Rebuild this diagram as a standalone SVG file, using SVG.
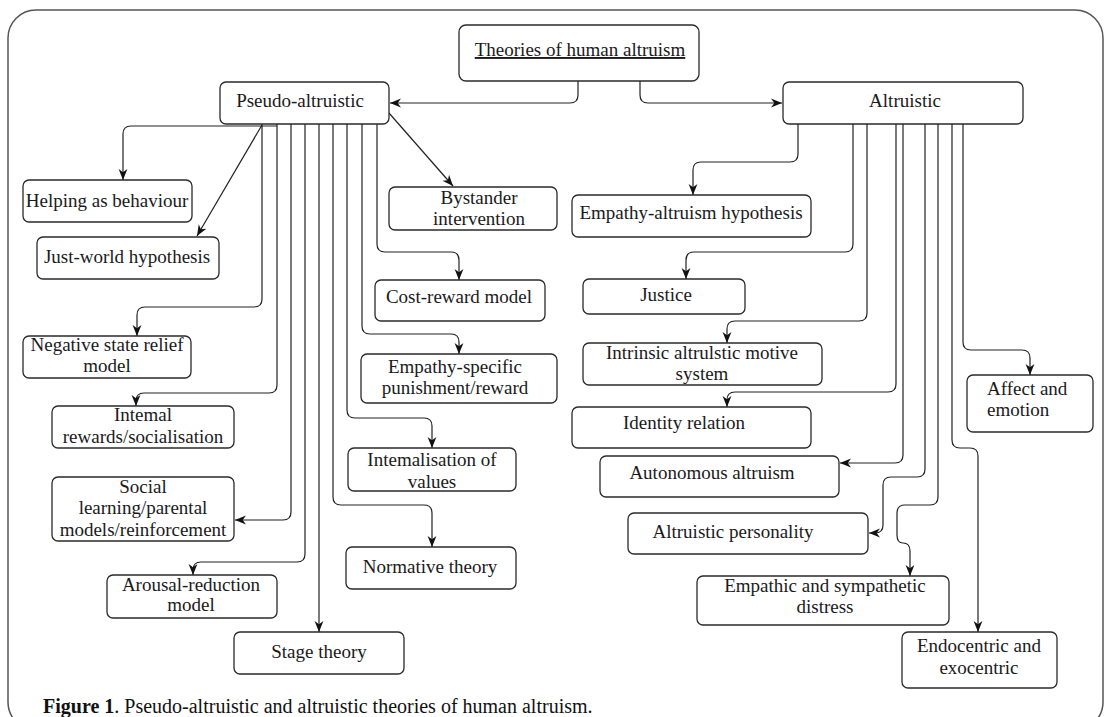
<svg xmlns="http://www.w3.org/2000/svg" width="1105" height="717" viewBox="0 0 1105 717">
<style>
.box{fill:#fff;stroke:#2a2a2a;stroke-width:1.3}
.t{font-family:"Liberation Serif","Times New Roman",serif;font-size:19px;fill:#1a1a1a;text-anchor:middle}
.l{text-anchor:start}
.c{fill:none;stroke:#222;stroke-width:1.2}
.a{marker-end:url(#arr)}
.frame{fill:none;stroke:#555;stroke-width:1.5}
.cap{font-family:"Liberation Serif","Times New Roman",serif;font-size:20px;fill:#111}
</style>
<defs>
<marker id="arr" viewBox="0 0 10 10" refX="10" refY="5" markerWidth="11" markerHeight="11" markerUnits="userSpaceOnUse" orient="auto">
<path d="M0,1 L10,5 L0,9 L3,5 z" fill="#111"/>
</marker>
</defs>
<rect width="1105" height="717" fill="#fff"/>
<rect class="frame" x="8" y="10" width="1095" height="720" rx="28"/>

<g id="connectors">
<path class="c a" d="M578,81 V95 Q578,103 570,103 H390"/>
<path class="c a" d="M640,81 V95 Q640,103 648,103 H782"/>
<path class="c a" d="M277,126 H131 Q123,126 123,134 V180"/>
<path class="c a" d="M262,125 L197,236"/>
<path class="c a" d="M389,113 L453,186"/>
<path class="c a" d="M262,124 V299 Q262,307 254,307 H145 Q137,307 137,315 V336"/>
<path class="c a" d="M277,124 V385 Q277,393 269,393 H144 Q136,393 136,401 V406"/>
<path class="c a" d="M291,124 V512 Q291,520 283,520 H235"/>
<path class="c a" d="M305,124 V554 Q305,562 297,562 H201 Q193,562 193,570 V575"/>
<path class="c a" d="M319,124 V632"/>
<path class="c a" d="M333,124 V497 Q333,505 341,505 H424 Q432,505 432,513 V547"/>
<path class="c a" d="M347,124 V410 Q347,418 355,418 H424 Q432,418 432,426 V448"/>
<path class="c a" d="M362,124 V326 Q362,334 370,334 H451 Q459,334 459,342 V354"/>
<path class="c a" d="M377,124 V244 Q377,252 385,252 H451 Q459,252 459,260 V280"/>
<path class="c a" d="M798,124 V154 Q798,162 790,162 H701 Q693,162 693,170 V195"/>
<path class="c a" d="M853,124 V244 Q853,252 845,252 H694 Q686,252 686,260 V279"/>
<path class="c a" d="M867,124 V313 Q867,321 859,321 H735 Q727,321 727,329 V343"/>
<path class="c a" d="M896,124 V384 Q896,392 888,392 H735 Q727,392 727,400 V407"/>
<path class="c a" d="M903,124 V455 Q903,463 895,463 H840"/>
<path class="c a" d="M925,124 V469 Q925,477 917,477 H891 Q883,477 883,485 V525 Q883,533 875,533 H869"/>
<path class="c a" d="M938,124 V497 Q938,505 930,505 H905 Q897,505 897,513 V535 Q897,543 903,543 Q910,543 910,551 V576"/>
<path class="c a" d="M952,124 V440 Q952,448 960,448 H970 Q978,448 978,456 V632"/>
<path class="c a" d="M963,124 V342 Q963,350 971,350 H1022 Q1030,350 1030,358 V375"/>
</g>

<g id="theories">
<rect class="box" x="459" y="25" width="240" height="56" rx="7"/>
<text class="t" x="580" y="56" text-decoration="underline">Theories of human altruism</text>
</g>
<g id="pseudo">
<rect class="box" x="220" y="82" width="169" height="42" rx="6"/>
<text class="t" x="300" y="107">Pseudo-altruistic</text>
</g>
<g id="altruistic">
<rect class="box" x="783" y="82" width="240" height="42" rx="6"/>
<text class="t" x="905" y="107">Altruistic</text>
</g>

<g id="helping">
<rect class="box" x="23" y="180" width="169" height="42" rx="6"/>
<text class="t" x="107" y="207">Helping as behaviour</text>
</g>
<g id="justworld">
<rect class="box" x="37" y="237" width="182" height="42" rx="6"/>
<text class="t" x="127" y="263">Just-world hypothesis</text>
</g>
<g id="negative">
<rect class="box" x="23" y="336" width="168" height="42" rx="6"/>
<text class="t"><tspan x="107" y="351">Negative state relief</tspan><tspan x="107" y="372">model</tspan></text>
</g>
<g id="internal">
<rect class="box" x="52" y="406" width="182" height="42" rx="6"/>
<text class="t"><tspan x="143" y="421">Intemal</tspan><tspan x="143" y="443">rewards/socialisation</tspan></text>
</g>
<g id="social">
<rect class="box" x="52" y="477" width="182" height="64" rx="6"/>
<text class="t"><tspan x="143" y="493">Social</tspan><tspan x="143" y="514">learning/parental</tspan><tspan x="143" y="536">models/reinforcement</tspan></text>
</g>
<g id="arousal">
<rect class="box" x="107" y="575" width="170" height="43" rx="6"/>
<text class="t"><tspan x="191" y="591">Arousal-reduction</tspan><tspan x="191" y="611">model</tspan></text>
</g>
<g id="stage">
<rect class="box" x="234" y="632" width="170" height="42" rx="6"/>
<text class="t" x="319" y="658">Stage theory</text>
</g>
<g id="bystander">
<rect class="box" x="389" y="187" width="168" height="43" rx="6"/>
<text class="t"><tspan x="479" y="204">Bystander</tspan><tspan x="479" y="225">intervention</tspan></text>
</g>
<g id="costreward">
<rect class="box" x="375" y="280" width="170" height="41" rx="6"/>
<text class="t" x="459" y="303">Cost-reward model</text>
</g>
<g id="empathyspecific">
<rect class="box" x="361" y="354" width="196" height="49" rx="6"/>
<text class="t"><tspan x="455" y="373">Empathy-specific</tspan><tspan x="455" y="394">punishment/reward</tspan></text>
</g>
<g id="internalisation">
<rect class="box" x="348" y="448" width="168" height="43" rx="6"/>
<text class="t"><tspan x="432" y="466">Intemalisation of</tspan><tspan x="432" y="488">values</tspan></text>
</g>
<g id="normative">
<rect class="box" x="346" y="547" width="170" height="42" rx="6"/>
<text class="t" x="430" y="573">Normative theory</text>
</g>

<g id="empathyaltruism">
<rect class="box" x="572" y="195" width="239" height="42" rx="6"/>
<text class="t" x="691" y="219">Empathy-altruism hypothesis</text>
</g>
<g id="justice">
<rect class="box" x="583" y="279" width="162" height="35" rx="6"/>
<text class="t" x="666" y="301">Justice</text>
</g>
<g id="intrinsic">
<rect class="box" x="583" y="343" width="239" height="42" rx="6"/>
<text class="t"><tspan x="702" y="359">Intrinsic altrulstic motive</tspan><tspan x="702" y="380">system</tspan></text>
</g>
<g id="identity">
<rect class="box" x="572" y="407" width="239" height="41" rx="6"/>
<text class="t" x="684" y="429">Identity relation</text>
</g>
<g id="autonomous">
<rect class="box" x="600" y="456" width="239" height="41" rx="6"/>
<text class="t" x="712" y="479">Autonomous altruism</text>
</g>
<g id="personality">
<rect class="box" x="628" y="513" width="240" height="41" rx="6"/>
<text class="t" x="733" y="538">Altruistic personality</text>
</g>
<g id="empathic">
<rect class="box" x="697" y="576" width="252" height="49" rx="6"/>
<text class="t"><tspan x="825" y="592">Empathic and sympathetic</tspan><tspan x="825" y="613">distress</tspan></text>
</g>
<g id="endocentric">
<rect class="box" x="902" y="632" width="155" height="56" rx="6"/>
<text class="t"><tspan x="979" y="652">Endocentric and</tspan><tspan x="979" y="674">exocentric</tspan></text>
</g>
<g id="affect">
<rect class="box" x="967" y="375" width="126" height="57" rx="6"/>
<text class="t l"><tspan x="987" y="395">Affect and</tspan><tspan x="987" y="416">emotion</tspan></text>
</g>

<text class="cap" x="43" y="713"><tspan font-weight="bold">Figure 1</tspan>. Pseudo-altruistic and altruistic theories of human altruism.</text>
</svg>
